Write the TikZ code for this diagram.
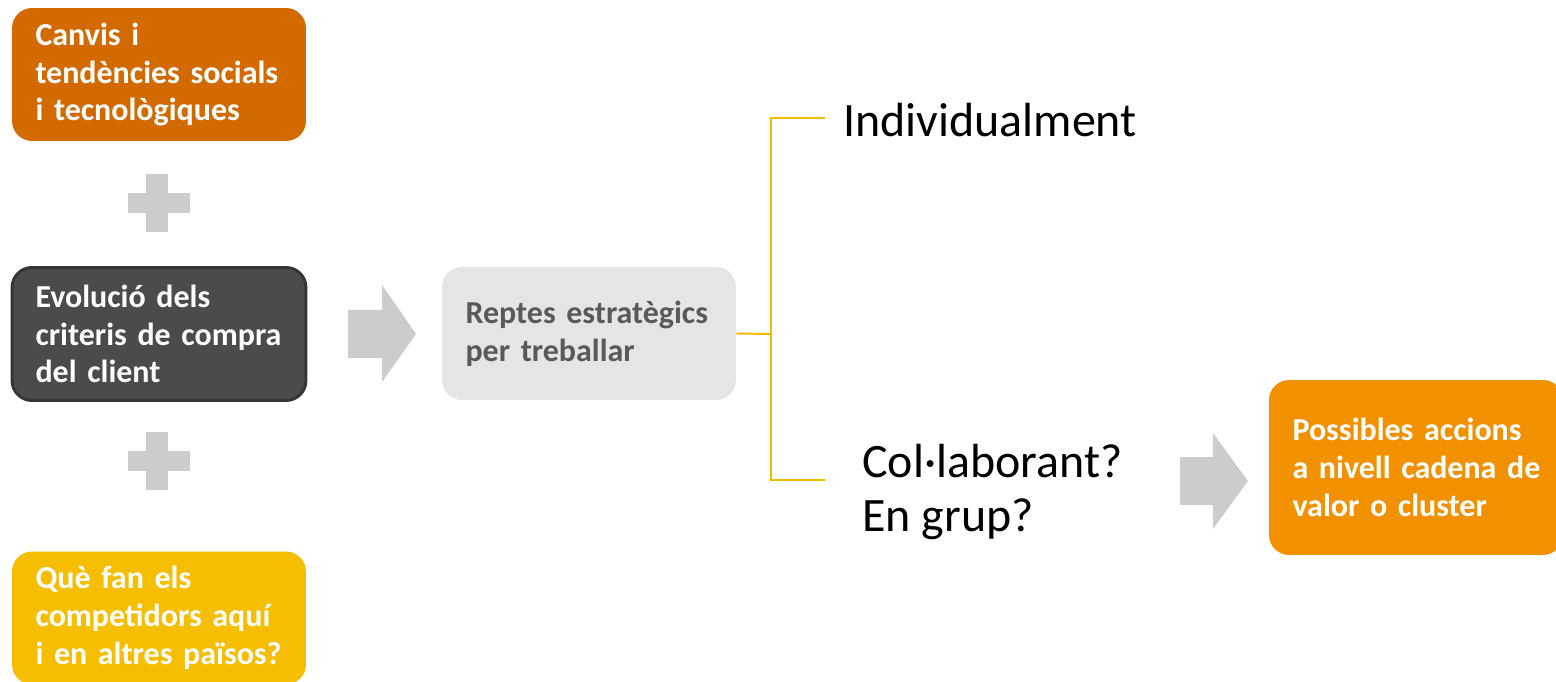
\documentclass[tikz,border=0pt]{standalone}
\usepackage{fontspec}
\setmainfont{Carlito}
\usepackage{xcolor}
\definecolor{burnt}{HTML}{D36A00}
\definecolor{slate}{HTML}{4B4B4B}
\definecolor{slateedge}{HTML}{353535}
\definecolor{pale}{HTML}{E5E5E5}
\definecolor{paletext}{HTML}{595959}
\definecolor{plusgrey}{HTML}{CCCCCC}
\definecolor{gold}{HTML}{F6B900}
\definecolor{amber}{HTML}{F29100}
\definecolor{sun}{HTML}{F6BE00}

\begin{document}
\begin{tikzpicture}[x=0.02cm,y=-0.02cm]
\tikzstyle{every node}+=[inner sep=0pt]
\tikzstyle{box}=[rounded corners=0.4cm, minimum height=2.66cm, text width=4.94cm, inner xsep=0.47cm,
  align=left, text=white, font=\fontsize{18.2}{21.5}\selectfont\bfseries]
\tikzstyle{big}=[anchor=west, align=left, font=\fontsize{27.3}{31.2}\selectfont]
\tikzstyle{bracket}=[gold, line width=1.1pt]
\useasboundingbox (0,0) rectangle (1556,682);
% left column
\node [box, fill=burnt] (canvis) at (159,74.5) {Canvis i\\tendències socials\\i tecnològiques};
\node [box, fill=slate, draw=slateedge, line width=1.7pt] (evolucio) at (159,334) {Evolució dels\\criteris de compra\\del client};
\node [box, fill=sun] (competidors) at (159,618) {Què fan els\\competidors aquí\\i en altres països?};
\foreach \y in {203,461} {
  \fill [plusgrey] (128,\y-10) rectangle (190,\y+10);
  \fill [plusgrey] (146,\y-29) rectangle (168,\y+29);
}
% middle
\fill [plusgrey] (348,310) -- (382,310) -- (382,285) -- (416,334) -- (382,382) -- (382,358) -- (348,358) -- cycle;
\node [box, fill=pale, text=paletext] (reptes) at (589,333.5) {Reptes estratègics\\per treballar};
\node [big] (indiv) at (843,120) {Individualment};
\node [big] (collab) at (862,492) {Col·laborant?\\En grup?};
\coordinate (fork) at (771,334);
\coordinate (itop) at (825,118);
\coordinate (ibot) at (825,480);
\draw [bracket] (reptes.east) -- (fork);
\draw [bracket] (itop) -- (itop -| fork) -- (ibot -| fork) -- (ibot);
% right
\fill [plusgrey] (1180,457) -- (1213,457) -- (1213,433) -- (1248,481) -- (1213,529) -- (1213,505) -- (1180,505) -- cycle;
\node [box, fill=amber, minimum height=3.5cm] (accions) at (1416,467.5) {Possibles accions\\\mbox{a nivell cadena de}\\valor o cluster};
\end{tikzpicture}
\end{document}
